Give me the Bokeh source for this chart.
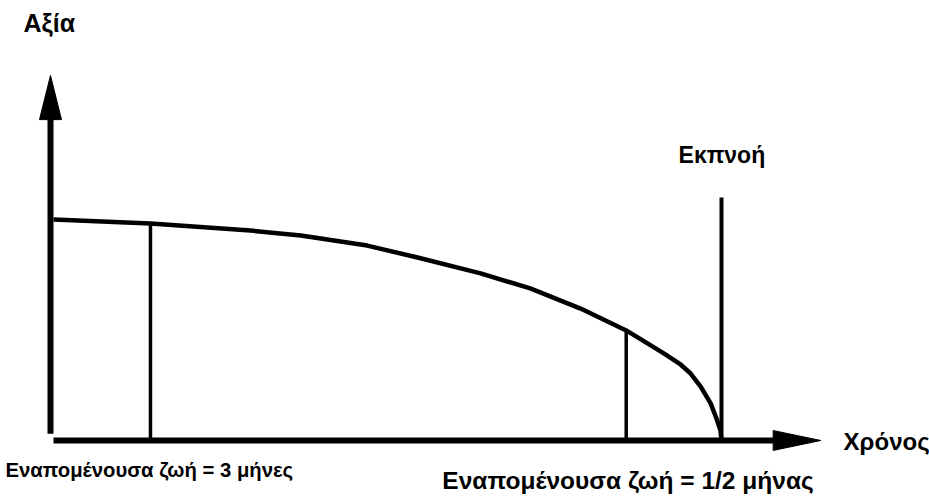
from bokeh.plotting import figure
from bokeh.models import Range1d
from bokeh.core.properties import value
from bokeh.embed import file_html
from bokeh.resources import INLINE

# Curve of option time value vs time (arbitrary units; expiry at t=100)
t = [0.45, 14.9, 29.8, 37.3, 47.2, 54.7, 64.1, 71.5, 79.0, 85.8, 91.4, 93.9, 95.4, 96.9, 98.4, 99.25, 99.85, 100.0]
v = [100.0, 98.2, 95.0, 92.8, 88.2, 82.8, 75.6, 68.8, 59.7, 49.8, 39.4, 34.4, 30.3, 24.4, 16.7, 9.95, 4.5, 0.0]

# Remaining life markers
marker_t = [14.9, 85.8]
marker_v = [98.2, 49.8]
expiry_t = 100.0
expiry_top = 110.0

y_label = "Αξία"
x_label = "Χρόνος"
expiry_label = "Εκπνοή"
marker_labels = ["Εναπομένουσα ζωή = 3 μήνες", "Εναπομένουσα ζωή = 1/2 μήνας"]

FONT = value("Liberation Sans")

p = figure(width=929, height=499, output_backend="svg", toolbar_location=None,
           x_range=Range1d(-7.45, 131.0), y_range=Range1d(-26.7, 199.1),
           min_border=0)
p.axis.visible = False
p.grid.visible = False
p.outline_line_color = None
p.background_fill_color = "white"

# axes as arrows
p.line([0, 0], [3, 146], line_width=6, color="black")
p.patch([-1.64, 0, 1.64], [145.2, 165.2, 145.2], color="black")
p.line([0.45, 108], [0, 0], line_width=6, color="black")
p.patch([107.7, 114.8, 107.7], [4.5, 0, -4.5], color="black")

# curve
p.line(t, v, line_width=4.5, color="black", line_join="round")

# markers
p.segment(x0=marker_t, y0=[0, 0], x1=marker_t, y1=marker_v, line_width=3.5, color="black")
p.segment(x0=[expiry_t], y0=[0], x1=[expiry_t], y1=[expiry_top], line_width=4, color="black")

# texts
p.text(x=[-4.02], y=[188.7], text=[y_label], text_font=FONT, text_font_style="bold",
       text_font_size="25px", text_baseline="alphabetic", color="black")
p.text(x=[93.6], y=[129.0], text=[expiry_label], text_font=FONT, text_font_style="bold",
       text_font_size="23px", text_baseline="alphabetic", color="black")
p.text(x=[118.2], y=[-0.4], text=[x_label], text_font=FONT, text_font_style="bold",
       text_font_size="24px", text_baseline="alphabetic", color="black")
p.text(x=[-6.7], y=[-13.5], text=[marker_labels[0]], text_font=FONT,
       text_font_style="bold", text_font_size="20.3px", text_baseline="alphabetic", color="black")
p.text(x=[58.4], y=[-18.0], text=[marker_labels[1]], text_font=FONT,
       text_font_style="bold", text_font_size="24.5px", text_baseline="alphabetic", color="black")

open("out.html", "w").write(file_html(p, INLINE))
